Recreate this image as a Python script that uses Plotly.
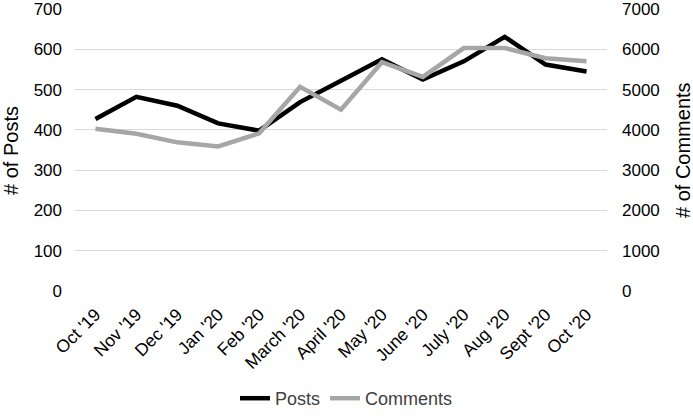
import plotly.graph_objects as go

months = ["Oct '19", "Nov '19", "Dec '19", "Jan '20", "Feb '20", "March '20", "April '20",
          "May '20", "June '20", "July '20", "Aug '20", "Sept '20", "Oct '20"]
posts = [427, 482, 460, 416, 398, 469, 522, 575, 525, 570, 631, 562, 545]
comments = [4030, 3905, 3690, 3590, 3913, 5067, 4500, 5680, 5315, 6030, 6030, 5780, 5705]

font_family = "Liberation Sans, Arial, sans-serif"

fig = go.Figure()
fig.add_trace(go.Scatter(x=list(range(len(months))), y=posts, name="Posts", mode="lines",
                         line=dict(color="#000000", width=4.5)))
fig.add_trace(go.Scatter(x=list(range(len(months))), y=comments, name="Comments", mode="lines",
                         line=dict(color="#a6a6a6", width=4.5), yaxis="y2"))

fig.update_layout(
    width=693, height=417,
    margin=dict(l=75, r=86, t=9, b=126, autoexpand=False),
    paper_bgcolor="white", plot_bgcolor="white",
    font=dict(family=font_family, size=17, color="#000000"),
    xaxis=dict(
        tickmode="array", tickvals=list(range(len(months))), ticktext=months,
        range=[-0.5, len(months) - 0.5], tickangle=-45, showgrid=False,
        showline=False, zeroline=False, ticks="", tickfont=dict(size=17.5),
        ticklabelstandoff=9, automargin=False, ticklabeloverflow="allow",
    ),
    yaxis=dict(
        range=[0, 700], dtick=100, showgrid=True, gridcolor="#d9d9d9", gridwidth=1,
        zeroline=False, showline=False, ticks="", tickfont=dict(size=17),
        ticklabelstandoff=12, automargin=False, ticklabeloverflow="allow",
    ),
    yaxis2=dict(
        range=[0, 7000], dtick=1000, overlaying="y", side="right",
        showgrid=False, zeroline=False, showline=False, ticks="", tickfont=dict(size=17),
        ticklabelstandoff=14, automargin=False, ticklabeloverflow="allow",
    ),
    legend=dict(orientation="h", x=0.5, xanchor="center", xref="container",
                y=-0.014, yanchor="bottom", yref="container",
                font=dict(size=18, color="#404040")),
    showlegend=True,
    annotations=[
        dict(text="# of Posts", xref="paper", yref="paper", x=-0.1203, y=0.4965,
             xanchor="center", yanchor="middle", textangle=-90, showarrow=False,
             font=dict(size=20, color="#000000")),
        dict(text="# of Comments", xref="paper", yref="paper", x=1.1429, y=0.5,
             xanchor="center", yanchor="middle", textangle=-90, showarrow=False,
             font=dict(size=20, color="#000000")),
    ],
)

fig.write_html("out.html", config={"displayModeBar": False},
               post_script="document.body.style.margin='0px';")
